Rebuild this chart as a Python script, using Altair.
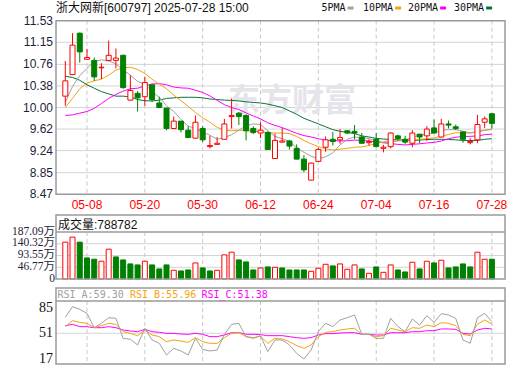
import altair as alt
import pandas as pd

# ---------------- data ----------------
dates = ["04-30","05-06","05-07","05-08","05-09","05-12","05-13","05-14","05-15","05-16",
         "05-19","05-20","05-21","05-22","05-23","05-26","05-27","05-28","05-29","05-30",
         "06-03","06-04","06-05","06-06","06-09","06-10","06-11","06-12","06-13","06-16",
         "06-17","06-18","06-19","06-20","06-23","06-24","06-25","06-26","06-27","06-30",
         "07-01","07-02","07-03","07-04","07-07","07-08","07-09","07-10","07-11","07-14",
         "07-15","07-16","07-17","07-18","07-21","07-22","07-23","07-24","07-25","07-28"]
opens = [10.20,10.58,11.31,10.85,10.83,10.70,10.83,10.83,10.92,10.13,
         10.25,10.19,10.40,10.08,9.99,9.63,9.76,9.60,9.46,9.63,
         9.31,9.35,9.44,9.84,9.90,9.86,9.63,9.55,9.56,9.10,
         9.39,9.41,9.28,9.09,8.72,9.05,9.30,9.44,9.43,9.59,
         9.58,9.48,9.38,9.44,9.28,9.31,9.50,9.44,9.37,9.53,
         9.50,9.64,9.48,9.71,9.66,9.57,9.38,9.43,9.74,9.89]
highs = [10.82,11.31,11.32,11.03,10.88,10.78,11.18,11.04,10.93,10.57,
         10.29,10.54,10.40,10.19,9.99,9.84,9.76,9.67,9.86,9.67,
         9.50,9.48,9.80,10.16,9.92,9.88,9.67,9.74,9.58,9.54,
         9.64,9.43,9.35,9.16,9.03,9.29,9.49,9.57,9.62,9.60,
         9.69,9.55,9.44,9.55,9.34,9.56,9.52,9.50,9.60,9.53,
         9.67,9.79,9.80,9.77,9.70,9.58,9.46,9.87,9.84,9.89]
lows = [10.03,10.57,10.79,10.85,10.47,10.50,10.82,10.69,10.33,10.12,
        9.93,10.03,10.10,10.00,9.60,9.62,9.56,9.46,9.45,9.39,
        9.28,9.34,9.44,9.63,9.69,9.42,9.53,9.46,9.25,9.10,
        9.38,9.26,9.09,8.86,8.72,9.05,9.22,9.33,9.36,9.53,
        9.44,9.36,9.33,9.30,9.21,9.28,9.42,9.36,9.30,9.37,
        9.41,9.55,9.47,9.63,9.60,9.38,9.35,9.37,9.64,9.63]
closes = [10.47,11.10,10.98,10.88,10.54,10.71,10.92,10.87,10.35,10.30,
          10.17,10.44,10.14,10.00,9.63,9.76,9.61,9.47,9.74,9.43,
          9.33,9.37,9.71,9.86,9.84,9.59,9.56,9.60,9.26,9.42,
          9.41,9.32,9.09,8.90,9.02,9.26,9.43,9.40,9.47,9.55,
          9.55,9.37,9.40,9.31,9.30,9.55,9.45,9.39,9.55,9.48,
          9.62,9.55,9.71,9.69,9.63,9.44,9.40,9.70,9.80,9.72]
volumes = [146.7,166.7,146.7,83.9,78.7,70.7,118.7,87.9,75.9,60.0,
           56.0,70.7,56.0,40.0,56.0,34.6,32.0,36.0,64.0,44.0,
           32.0,34.6,96.0,106.7,76.0,68.0,36.0,44.0,48.0,46.7,
           44.0,36.0,36.0,36.0,30.7,42.6,58.6,52.0,60.0,38.6,
           56.0,40.0,22.6,48.0,26.6,56.0,36.0,28.0,66.7,40.0,
           70.7,64.0,74.6,44.0,48.0,60.0,48.0,106.7,78.7,78.88]
vol_dir = ["up","up","down","down","down","up","up","down","down","down",
           "down","up","down","down","down","up","down","down","up","down",
           "down","up","up","up","down","down","down","up","down","up",
           "down","down","down","down","up","up","up","down","up","up",
           "up","down","up","down","up","up","down","down","up","down",
           "up","down","up","down","down","down","down","up","up","down"]
ma5 = [10.09,10.37,10.56,10.69,10.81,10.84,10.82,10.77,10.66,10.57,
       10.46,10.41,10.28,10.18,10.03,9.93,9.79,9.67,9.63,9.57,
       9.51,9.44,9.47,9.52,9.60,9.68,9.71,9.70,9.59,9.49,
       9.45,9.40,9.29,9.21,9.14,9.10,9.13,9.20,9.34,9.44,
       9.48,9.47,9.45,9.41,9.38,9.39,9.41,9.42,9.48,9.51,
       9.53,9.55,9.60,9.61,9.61,9.58,9.55,9.57,9.60,9.61]
ma10 = [10.00,10.16,10.33,10.43,10.47,10.50,10.57,10.66,10.70,10.71,
        10.67,10.60,10.50,10.41,10.33,10.22,10.12,10.02,9.91,9.82,
        9.74,9.65,9.60,9.59,9.60,9.59,9.58,9.58,9.555,9.55,
        9.55,9.54,9.49,9.42,9.36,9.31,9.27,9.25,9.265,9.28,
        9.30,9.305,9.33,9.37,9.395,9.42,9.425,9.425,9.44,9.44,
        9.45,9.465,9.49,9.525,9.555,9.553,9.552,9.578,9.60,9.62]
ma20 = [9.86,9.87,9.90,9.93,9.985,10.07,10.16,10.23,10.29,10.33,
        10.34,10.38,10.415,10.42,10.40,10.36,10.345,10.34,10.305,10.265,
        10.205,10.125,10.05,10.00,9.965,9.905,9.85,9.80,9.73,9.685,
        9.645,9.595,9.545,9.505,9.48,9.45,9.425,9.415,9.41,9.415,
        9.425,9.42,9.41,9.395,9.378,9.365,9.35,9.34,9.35,9.36,
        9.375,9.385,9.41,9.45,9.475,9.49,9.49,9.50,9.52,9.53]
ma30 = [10.55,10.53,10.48,10.40,10.34,10.28,10.24,10.20,10.20,10.185,
        10.14,10.12,10.115,10.13,10.16,10.17,10.18,10.18,10.18,10.17,
        10.15,10.14,10.13,10.125,10.115,10.10,10.09,10.08,10.06,10.03,
        10.00,9.94,9.88,9.81,9.76,9.71,9.66,9.61,9.58,9.56,
        9.54,9.50,9.48,9.455,9.445,9.437,9.43,9.43,9.42,9.425,
        9.435,9.44,9.44,9.435,9.43,9.42,9.417,9.42,9.44,9.45]
rsi_a = [72.4,86.8,83.2,77.8,58.5,64.4,72.0,71.1,44.2,42.9,
         35.3,57.7,42.0,37.5,21.8,30.8,27.2,21.8,44.2,29.4,
         27.2,28.5,49.6,63.0,64.4,46.5,44.2,47.6,26.3,42.0,
         42.0,35.3,24.0,16.4,28.5,53.2,64.4,60.0,68.9,72.0,
         75.6,49.6,49.6,44.2,44.2,71.1,60.0,53.2,70.2,62.1,
         74.7,65.7,77.4,75.6,71.1,42.0,37.5,72.0,77.8,66.6]
rsi_b = [59.9,68.0,65.7,64.4,58.5,61.2,64.4,63.0,53.2,50.9,
         47.8,55.4,48.7,46.5,39.7,42.0,40.6,38.8,45.1,39.7,
         37.5,37.5,45.1,50.9,51.8,46.5,45.1,47.2,37.5,44.2,
         43.3,39.7,34.4,30.8,35.3,46.5,52.3,53.2,55.4,56.8,
         57.7,49.6,49.6,46.5,47.8,57.7,55.4,53.2,58.5,57.7,
         62.1,59.9,65.3,64.4,61.2,49.6,47.8,63.0,68.9,63.5]
rsi_c = [61.2,63.0,59.9,59.9,58.5,58.5,59.9,58.5,55.4,54.1,
         53.2,56.3,53.2,52.3,50.9,50.9,50.0,49.6,50.9,49.6,
         46.5,46.5,48.7,51.8,51.8,49.6,49.6,49.2,47.8,47.8,
         47.8,46.5,45.1,44.2,45.1,48.7,50.5,50.5,51.4,51.8,
         51.8,49.6,49.6,48.7,48.7,51.8,51.8,51.8,53.2,53.2,
         54.5,54.5,56.8,56.8,56.3,50.9,50.0,55.4,57.7,56.8]

price_ticks = [8.47, 8.85, 9.24, 9.62, 10.00, 10.38, 10.76, 11.15, 11.53]
price_labels = ["8.47", "8.85", "9.24", "9.62", "10.00", "10.38", "10.76", "11.15", "11.53"]
vol_ticks = [0, 46.77, 93.55, 140.32, 187.09]
vol_labels = ["0", "46.77万", "93.55万", "140.32万", "187.09万"]
rsi_ticks = [17, 51, 85]
rsi_labels = ["17", "51", "85"]
date_ticks = ["05-08", "05-20", "05-30", "06-12", "06-24", "07-04", "07-16", "07-28"]
title_text = "浙大网新[600797] 2025-07-28 15:00"
vol_title = "成交量:788782"
rsi_names = ["RSI_A:59.30", "RSI_B:55.96", "RSI_C:51.38"]
ma_names = ["5PMA", "10PMA", "20PMA", "30PMA"]

# ---------------- layout / style ----------------
W, H = 520, 365
PL, PR = 56, 505
MAIN_T, MAIN_B = 20.7, 194.3
VOL_T, VOL_S, VOL_B = 215, 232, 279
RSI_T, RSI_S, RSI_B = 288, 301, 364
RED, GREEN = "#ff0000", "#008000"
MA_COLORS = ["#a0a0a0", "#f2a30f", "#ff00ff", "#087436"]
BORDER = "#9a9a9a"
GRID = "#d4d4d4"
LABEL = "#1e1e3c"
SANS = "Liberation Sans, Noto Sans CJK SC"
SERIF = "Liberation Serif, Noto Sans CJK SC"
MONO = "DejaVu Sans Mono"

n = len(dates)
idx = list(range(n))
XS = alt.Scale(domain=[0, n - 1], range=[60.3, 496.9], nice=False, zero=False)
YP = alt.Scale(domain=[price_ticks[0], price_ticks[-1]], range=[MAIN_B, MAIN_T], nice=False, zero=False)
YV = alt.Scale(domain=[0, vol_ticks[-1]], range=[VOL_B, VOL_S], nice=False, zero=False)
YR = alt.Scale(domain=[9.7, 94.4], range=[RSI_B, RSI_S], nice=False, zero=False)

def xe(f="i"):
    return alt.X(f"{f}:Q", scale=XS, axis=None)

def ye(f, sc):
    return alt.Y(f"{f}:Q", scale=sc, axis=None)

one = pd.DataFrame({"a": [0]})
df = pd.DataFrame({"i": idx, "date": dates, "open": opens, "high": highs, "low": lows,
                   "close": closes, "vol": volumes, "vdir": vol_dir, "zero": [0] * n})
tick_df = pd.DataFrame({"i": [dates.index(d) for d in date_ticks], "d": date_ticks})

layers = []

# panel backgrounds
for t, b in [(MAIN_T, MAIN_B), (VOL_T, VOL_B), (RSI_T, RSI_B)]:
    layers.append(alt.Chart(one).mark_rect(fill="white").encode(
        x=alt.value(PL), x2=alt.value(PR), y=alt.value(t), y2=alt.value(b)))

# horizontal grids
layers.append(alt.Chart(pd.DataFrame({"p": price_ticks[1:-1]})).mark_rule(color=GRID, strokeWidth=1).encode(
    y=ye("p", YP), x=alt.value(PL), x2=alt.value(PR)))
layers.append(alt.Chart(pd.DataFrame({"p": vol_ticks[1:-1]})).mark_rule(color=GRID, strokeWidth=1).encode(
    y=ye("p", YV), x=alt.value(PL), x2=alt.value(PR)))
layers.append(alt.Chart(pd.DataFrame({"p": [51]})).mark_rule(color=GRID, strokeWidth=1).encode(
    y=ye("p", YR), x=alt.value(PL), x2=alt.value(PR)))

# vertical dashed grids
for t, b in [(MAIN_T, MAIN_B), (VOL_S, VOL_B), (RSI_S, RSI_B)]:
    layers.append(alt.Chart(tick_df).mark_rule(color="#c8c8c8", strokeDash=[4, 3], strokeWidth=1).encode(
        x=xe(), y=alt.value(t), y2=alt.value(b)))

# watermark
layers.append(alt.Chart(one).mark_text(text="东方财富", font="Noto Sans CJK SC", fontSize=32, fontWeight="bold",
                                       color="#e4e4ea", align="center", baseline="middle").encode(
    x=alt.value(292), y=alt.value(101)))

# MA lines
for arr, c in zip([ma30, ma20, ma10, ma5], [MA_COLORS[3], MA_COLORS[2], MA_COLORS[1], MA_COLORS[0]]):
    layers.append(alt.Chart(pd.DataFrame({"i": idx, "v": arr})).mark_line(color=c, strokeWidth=1).encode(
        x=xe(), y=ye("v", YP)))

up = "datum.close >= datum.open"
# wicks
layers.append(alt.Chart(df).mark_rule(strokeWidth=1).encode(
    x=xe(), y=ye("low", YP), y2="high:Q",
    color=alt.condition(up, alt.value(RED), alt.value(GREEN))))
# bodies
layers.append(alt.Chart(df).mark_bar(size=5, strokeWidth=1).encode(
    x=xe(), y=ye("open", YP), y2="close:Q",
    fill=alt.condition(up, alt.value("white"), alt.value(GREEN)),
    stroke=alt.condition(up, alt.value(RED), alt.value(GREEN))))

# volume bars
vup = "datum.vdir == 'up'"
layers.append(alt.Chart(df).mark_bar(size=5, strokeWidth=1).encode(
    x=xe(), y=ye("vol", YV), y2="zero:Q",
    fill=alt.condition(vup, alt.value("white"), alt.value(GREEN)),
    stroke=alt.condition(vup, alt.value(RED), alt.value(GREEN))))

# RSI lines
for arr, c in zip([rsi_c, rsi_b, rsi_a], [MA_COLORS[2], MA_COLORS[1], MA_COLORS[0]]):
    layers.append(alt.Chart(pd.DataFrame({"i": idx, "v": arr})).mark_line(color=c, strokeWidth=1).encode(
        x=xe(), y=ye("v", YR)))

# panel borders and header separators
for t, b in [(MAIN_T, MAIN_B), (VOL_T, VOL_B), (RSI_T, RSI_B)]:
    layers.append(alt.Chart(one).mark_rect(fillOpacity=0, stroke=BORDER, strokeWidth=1.5).encode(
        x=alt.value(PL), x2=alt.value(PR), y=alt.value(t), y2=alt.value(b)))
for s in [VOL_S, RSI_S]:
    layers.append(alt.Chart(one).mark_rule(color=BORDER, strokeWidth=1.5).encode(
        x=alt.value(PL), x2=alt.value(PR), y=alt.value(s)))

# axis labels
layers.append(alt.Chart(pd.DataFrame({"p": price_ticks, "t": price_labels})).mark_text(
    align="right", baseline="middle", font=SANS, fontSize=12, color=LABEL).encode(
    y=ye("p", YP), x=alt.value(53), text="t:N"))
layers.append(alt.Chart(pd.DataFrame({"p": vol_ticks, "t": vol_labels})).mark_text(
    align="right", baseline="middle", font=SERIF, fontSize=11.5, color=LABEL, dy=-0.5).encode(
    y=ye("p", YV), x=alt.value(55), text="t:N"))
layers.append(alt.Chart(pd.DataFrame({"p": rsi_ticks, "t": rsi_labels})).mark_text(
    align="right", baseline="middle", font=SERIF, fontSize=14, color="#111111").encode(
    y=ye("p", YR), x=alt.value(53), text="t:N"))
layers.append(alt.Chart(tick_df).mark_text(
    align="center", baseline="middle", font=SANS, fontSize=12, color=RED).encode(
    x=xe(), y=alt.value(205), text="d:N"))

# titles
layers.append(alt.Chart(one).mark_text(text=title_text, align="left", baseline="middle",
                                       font=SANS, fontSize=12, color="#111111").encode(
    x=alt.value(56), y=alt.value(8)))
layers.append(alt.Chart(one).mark_text(text=vol_title, align="left", baseline="middle",
                                       font=SANS, fontSize=12, color="#111111").encode(
    x=alt.value(58), y=alt.value(224.5)))
for name, c, x in zip(rsi_names, MA_COLORS[:3], [57.5, 130, 201.5]):
    layers.append(alt.Chart(one).mark_text(text=name, align="left", baseline="middle",
                                           font=MONO, fontSize=10, color=c).encode(
        x=alt.value(x), y=alt.value(295)))
for name, c, x in zip(ma_names, MA_COLORS, [321.5, 363, 408, 454]):
    w = 6.02 * len(name)
    layers.append(alt.Chart(one).mark_text(text=name, align="left", baseline="middle",
                                           font=MONO, fontSize=10, color="#111111").encode(
        x=alt.value(x), y=alt.value(8)))
    layers.append(alt.Chart(one).mark_rect(color=c).encode(
        x=alt.value(x + w + 2), x2=alt.value(x + w + 8), y=alt.value(6.5), y2=alt.value(9.5)))

chart = alt.layer(*layers).resolve_scale(y="independent").properties(
    width=W, height=H, padding=0, autosize=alt.AutoSizeParams(type="none"), background="white"
).configure_view(stroke=None)

chart.save("out.html", embed_options={"renderer": "svg", "actions": False})
